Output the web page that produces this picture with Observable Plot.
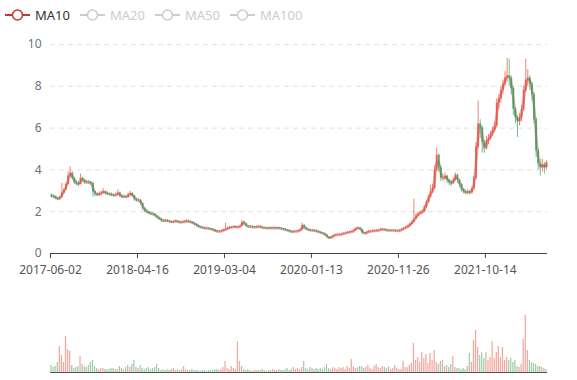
<!DOCTYPE html>
<html><head><meta charset="utf-8">
<script src="https://cdn.jsdelivr.net/npm/d3@7"></script>
<script src="https://cdn.jsdelivr.net/npm/@observablehq/plot@0.6"></script>
<style>
body{margin:0;background:#fff;font-family:"Noto Sans",sans-serif;}
#wrap{position:relative;width:577px;height:380px;overflow:hidden;}
#price{position:absolute;left:0;top:0;}
#vol{position:absolute;left:0;top:300px;}
#legend{position:absolute;left:0;top:0;}
</style></head><body>
<div id="wrap"><div id="price"></div><div id="vol"></div><svg id="legend" width="577" height="30"></svg></div>
<script>
// weekly candles (each ≈ 5 trading days), 2017-06-02 .. 2022
const firstOpen = 2.8;
const close = [
2.75,2.72,2.65,2.6,2.68,2.9,3.05,3.3,3.7,3.85,
3.6,3.4,3.35,3.3,3.6,3.5,3.4,3.42,3.4,3.35,
2.95,2.85,2.8,2.85,2.9,2.95,2.88,2.85,2.82,2.8,
2.78,2.8,2.9,2.75,2.7,2.72,2.7,2.8,2.88,2.75,
2.6,2.55,2.55,2.4,2.15,2.05,1.98,1.92,1.9,1.88,
1.8,1.72,1.65,1.58,1.55,1.58,1.55,1.52,1.5,1.52,
1.55,1.5,1.48,1.5,1.52,1.55,1.52,1.5,1.45,1.4,
1.33,1.28,1.25,1.22,1.2,1.2,1.18,1.15,1.12,1.08,
1.05,1.05,1.08,1.12,1.15,1.2,1.25,1.25,1.28,1.25,
1.26,1.3,1.5,1.42,1.3,1.28,1.28,1.26,1.25,1.27,
1.28,1.25,1.22,1.22,1.2,1.22,1.2,1.22,1.2,1.22,
1.2,1.18,1.15,1.12,1.1,1.05,1.03,1.05,1.05,1.08,
1.12,1.35,1.22,1.15,1.12,1.1,1.1,1.08,1.05,1.02,
0.98,0.95,0.88,0.78,0.72,0.78,0.85,0.88,0.9,0.9,
0.92,0.95,0.98,1.0,1.02,1.05,1.12,1.2,1.22,1.15,
0.98,0.95,1.0,1.05,1.05,1.08,1.08,1.1,1.1,1.15,
1.15,1.12,1.1,1.1,1.1,1.1,1.08,1.08,1.1,1.15,
1.2,1.25,1.3,1.4,1.5,1.65,1.8,1.9,1.95,2.0,
2.2,2.45,2.7,2.95,3.1,4.0,4.7,4.1,3.6,3.6,
3.7,3.5,3.4,3.35,3.5,3.75,3.5,3.3,3.05,2.95,
2.9,2.95,2.9,3.1,3.6,5.1,6.2,6.0,5.3,5.0,
5.4,5.5,5.7,5.9,6.1,7.2,7.4,7.8,8.1,8.4,
8.5,8.4,7.9,6.9,6.5,6.3,6.5,6.9,7.8,8.3,
8.4,8.1,7.6,6.4,4.9,4.3,4.1,4.25,4.1,4.35];
const high = [
2.85,2.8,2.75,2.7,2.75,3.35,3.1,3.4,3.9,4.15,
3.9,3.65,3.5,3.45,3.8,3.65,3.55,3.5,3.5,3.45,
3.4,3.0,2.9,2.95,3.0,3.1,3.0,2.95,2.9,2.9,
2.85,2.9,3.05,2.95,2.8,2.8,2.78,2.88,2.98,2.9,
2.78,2.65,2.62,2.58,2.42,2.2,2.1,2.0,1.98,1.95,
1.9,1.8,1.74,1.68,1.62,1.64,1.62,1.58,1.56,1.58,
1.62,1.58,1.54,1.56,1.58,1.62,1.6,1.56,1.53,1.48,
1.42,1.36,1.3,1.28,1.25,1.26,1.24,1.2,1.18,1.14,
1.1,1.1,1.13,1.17,1.45,1.26,1.3,1.3,1.33,1.32,
1.32,1.36,1.58,1.55,1.45,1.34,1.33,1.32,1.3,1.32,
1.33,1.32,1.28,1.27,1.26,1.27,1.26,1.28,1.27,1.27,
1.26,1.24,1.2,1.18,1.15,1.12,1.08,1.1,1.1,1.13,
1.17,1.45,1.38,1.25,1.18,1.16,1.15,1.14,1.12,1.08,
1.04,1.0,0.97,0.9,0.8,0.83,0.9,0.93,0.95,0.95,
0.97,1.0,1.03,1.05,1.07,1.1,1.17,1.26,1.28,1.25,
1.17,1.02,1.05,1.1,1.1,1.13,1.13,1.15,1.16,1.2,
1.2,1.18,1.15,1.15,1.15,1.15,1.14,1.13,1.15,1.2,
1.25,1.3,1.36,1.46,1.58,2.6,1.9,1.98,2.05,2.1,
2.3,2.55,2.8,3.25,3.3,4.2,5.05,4.75,4.2,3.8,
3.85,3.75,3.55,3.5,3.6,3.85,3.8,3.55,3.35,3.1,
3.05,3.05,3.05,3.2,3.7,5.3,7.3,6.4,6.1,5.4,
5.6,5.7,5.85,6.05,6.3,7.4,7.6,8.0,8.3,8.7,
9.35,9.3,8.5,8.0,7.0,6.6,6.7,7.1,8.0,9.3,
8.8,8.5,8.2,7.7,6.5,5.0,4.5,4.5,4.35,4.45];
const low = [
2.65,2.62,2.58,2.52,2.55,2.65,2.85,3.0,3.25,3.6,
3.5,3.3,3.25,3.2,3.28,3.4,3.3,3.32,3.3,3.25,
2.7,2.72,2.72,2.75,2.8,2.85,2.8,2.78,2.75,2.72,
2.7,2.72,2.78,2.68,2.62,2.65,2.62,2.65,2.75,2.68,
2.5,2.45,2.45,2.3,2.05,1.95,1.9,1.85,1.82,1.8,
1.72,1.65,1.58,1.5,1.48,1.5,1.48,1.45,1.44,1.45,
1.48,1.44,1.42,1.44,1.46,1.48,1.46,1.44,1.4,1.34,
1.28,1.22,1.2,1.17,1.15,1.15,1.13,1.1,1.06,1.02,
0.98,1.0,1.02,1.06,1.1,1.14,1.18,1.2,1.22,1.2,
1.2,1.24,1.28,1.36,1.25,1.22,1.22,1.2,1.2,1.22,
1.22,1.2,1.17,1.17,1.15,1.17,1.15,1.17,1.15,1.16,
1.15,1.12,1.1,1.07,1.04,1.0,0.98,1.0,1.0,1.03,
1.07,1.1,1.16,1.1,1.07,1.05,1.05,1.03,1.0,0.97,
0.93,0.9,0.84,0.74,0.68,0.7,0.76,0.83,0.85,0.86,
0.87,0.9,0.93,0.95,0.97,1.0,1.03,1.1,1.15,1.1,
0.93,0.9,0.93,0.99,1.0,1.02,1.03,1.05,1.05,1.09,
1.1,1.07,1.05,1.05,1.05,1.05,1.03,1.03,1.05,1.08,
1.13,1.18,1.23,1.28,1.38,1.48,1.62,1.75,1.85,1.9,
1.95,2.15,2.4,2.65,2.85,3.05,3.9,3.9,3.45,3.45,
3.5,3.35,3.25,3.2,3.3,3.45,3.35,3.15,2.95,2.85,
2.8,2.82,2.8,2.85,3.05,3.5,5.0,5.5,4.8,4.8,
4.95,5.2,5.4,5.6,5.8,6.0,6.9,7.2,7.6,8.0,
8.2,8.0,7.6,6.6,6.2,5.55,6.1,6.3,6.8,7.7,
8.0,7.8,7.3,6.2,4.6,4.0,3.7,3.9,3.8,4.0];
const volume = [
7,5,6,10,26,17,10,36,23,21,
7,4,5,6,16,8,6,5,7,10,
12,6,4,3,4,4,3,3,3,4,
4,3,3,6,4,3,5,7,5,8,
12,5,4,7,4,3,4,5,3,4,
5,8,4,2,3,2,3,2,3,4,
2,3,2,3,6,3,2,2,3,2,
2,2,1,2,2,1,2,2,2,3,
3,2,3,5,11,4,3,6,4,3,
31,11,6,3,2,3,2,1,2,2,
2,2,3,2,1,2,2,3,2,2,
3,2,2,3,4,2,3,5,3,4,
3,5,11,4,3,5,4,3,4,3,
4,3,5,8,4,3,5,4,3,5,
4,5,3,6,4,13,6,4,5,6,
6,4,5,7,4,3,6,8,5,4,
6,5,4,6,3,4,7,4,3,3,
11,5,5,7,9,29,12,15,10,20,
14,18,9,19,12,22,10,8,11,12,
6,7,5,8,16,5,4,4,3,4,
3,6,19,10,32,42,25,17,20,14,
20,12,15,31,14,20,26,15,25,12,
15,12,14,10,12,6,5,8,33,57,
22,12,10,9,8,6,6,5,4,3];
const tickIdx = [0, 42, 84, 126, 168, 210];
const tickLabels = ["2017-06-02","2018-04-16","2019-03-04","2020-01-13","2020-11-26","2021-10-14"];
const yTicks = [0, 2, 4, 6, 8, 10];
const legendNames = ["MA10","MA20","MA50","MA100"];
const activeSeries = ["MA10"];

const upColor = "#e8503f", downColor = "#3f9a5e", maColor = "#c23531";
const rows = close.map((c, i) => ({
  i, x: i + 0.5, open: i === 0 ? firstOpen : close[i - 1], close: c,
  high: high[i], low: low[i], vol: volume[i]
}));
rows.forEach(d => d.up = d.close >= d.open);
const ups = rows.filter(d => d.up), downs = rows.filter(d => !d.up);
const labelAt = new Map(tickIdx.map((t, k) => [t, tickLabels[k]]));

const price = Plot.plot({
  width: 577, height: 280, marginTop: 44, marginBottom: 27, marginLeft: 50, marginRight: 30,
  style: {fontFamily: "Noto Sans, sans-serif", fontSize: "12px", background: "transparent"},
  x: {domain: [0, 240], axis: null},
  y: {domain: [0, 10], axis: null},
  marks: [
    Plot.ruleY(yTicks.filter(d => d > 0), {stroke: "#e0e0e0", strokeDasharray: "5,4"}),
    Plot.axisY({ticks: yTicks, tickSize: 0, tickPadding: 9, color: "#6e7079", fontSize: 12, label: null}),
    Plot.lineY(rows, Plot.windowY({k: 2, anchor: "end"}, {x: "x", y: "close", stroke: maColor, strokeOpacity: 0.45, strokeWidth: 2.5, curve: "monotone-x"})),
    Plot.ruleX(downs, {x: "x", y1: "low", y2: "high", stroke: downColor, strokeOpacity: 0.7, strokeWidth: 1}),
    Plot.ruleX(ups, {x: "x", y1: "low", y2: "high", stroke: upColor, strokeOpacity: 0.7, strokeWidth: 1}),
    Plot.ruleX(downs, {x: "x", y1: "open", y2: "close", stroke: downColor, strokeOpacity: 0.75, strokeWidth: 2}),
    Plot.ruleX(ups, {x: "x", y1: "open", y2: "close", stroke: upColor, strokeOpacity: 0.75, strokeWidth: 2}),
    Plot.ruleY([0], {stroke: "#444", strokeWidth: 1}),
    Plot.axisX({ticks: tickIdx, tickFormat: d => labelAt.get(d), tickSize: 5, tickPadding: 7, color: "#555", fontSize: 12, stroke: "#444", label: null})
  ]
});
document.getElementById("price").appendChild(price);

const vol = Plot.plot({
  width: 577, height: 80, marginTop: 15, marginBottom: 8, marginLeft: 50, marginRight: 30,
  style: {background: "transparent"},
  x: {domain: [0, 240], axis: null},
  y: {domain: [0, 57], axis: null},
  marks: [
    Plot.rectY(downs, {x1: d => d.i + 0.2, x2: d => d.i + 0.8, y: "vol", fill: downColor, fillOpacity: 0.5}),
    Plot.rectY(ups, {x1: d => d.i + 0.2, x2: d => d.i + 0.8, y: "vol", fill: upColor, fillOpacity: 0.5}),
    Plot.ruleY([0], {stroke: "#555", strokeWidth: 1.2})
  ]
});
document.getElementById("vol").appendChild(vol);

// legend
const lg = d3.select("#legend");
let lx = 5;
legendNames.forEach(name => {
  const on = activeSeries.includes(name);
  const col = on ? maColor : "#cccccc";
  lg.append("line").attr("x1", lx).attr("x2", lx + 25).attr("y1", 15).attr("y2", 15)
    .attr("stroke", col).attr("stroke-width", 2);
  lg.append("circle").attr("cx", lx + 12.5).attr("cy", 15).attr("r", 5)
    .attr("fill", "#fff").attr("stroke", col).attr("stroke-width", 1.5);
  const t = lg.append("text").attr("x", lx + 30).attr("y", 15).attr("dy", "0.35em")
    .attr("fill", on ? "#333" : "#ccc").attr("font-size", 13)
    .attr("font-family", "Noto Sans, sans-serif").text(name);
  lx += 30 + t.node().getComputedTextLength() + 10;
});
</script>
</body></html>
